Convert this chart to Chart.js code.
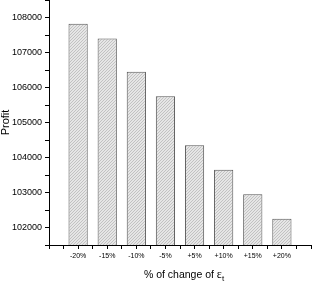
<!DOCTYPE html>
<html>
<head>
<meta charset="utf-8">
<script src="https://cdn.jsdelivr.net/npm/chart.js@4/dist/chart.umd.min.js"></script>
<style>
html,body{margin:0;padding:0;background:#fff;}
#wrap{width:312px;height:283px;position:relative;}
</style>
</head>
<body>
<div id="wrap"><canvas id="c" width="312" height="283"></canvas></div>
<script>
const categories = ['-20%', '-15%', '-10%', '-5%', '+5%', '+10%', '+15%', '+20%'];
const profit = [107820, 107400, 106450, 105750, 104350, 103650, 102950, 102250];
const yMin = 101500, yMax = 108500, yStep = 500;
const xTitle = '% of change of ';
const xTitleSym = '\u03b5';
const xTitleSub = 't';
const yTitle = 'Profit';

function hatch() {
  const p = document.createElement('canvas');
  p.width = 3; p.height = 3;
  const g = p.getContext('2d');
  g.fillStyle = '#e6e6e6';
  g.fillRect(0, 0, 3, 3);
  g.fillStyle = '#c2c2c2';
  g.fillRect(2, 0, 1, 1);
  g.fillRect(1, 1, 1, 1);
  g.fillRect(0, 2, 1, 1);
  return g.createPattern(p, 'repeat');
}

const data = profit.map((v, i) => ({ x: i + 1, y: v }));
const FONT = '"Liberation Sans", Arial, sans-serif';

const xTitlePlugin = {
  id: 'xTitle',
  afterDraw(chart) {
    const ctx = chart.ctx;
    const area = chart.chartArea;
    ctx.save();
    ctx.fillStyle = '#000';
    ctx.textBaseline = 'alphabetic';
    ctx.textAlign = 'left';
    const f1 = '10.5px ' + FONT, f2 = '12px "Liberation Serif", serif', f3 = '8px ' + FONT;
    ctx.font = f1; const w1 = ctx.measureText(xTitle).width;
    ctx.font = f2; const w2 = ctx.measureText(xTitleSym).width;
    ctx.font = f3; const w3 = ctx.measureText(xTitleSub).width;
    const cx = (area.left + area.right) / 2 + 4;
    const x0 = cx - (w1 + w2 + w3) / 2;
    const y = 278;
    ctx.font = f1; ctx.fillText(xTitle, x0, y);
    ctx.font = f2; ctx.fillText(xTitleSym, x0 + w1, y);
    ctx.font = f3; ctx.fillText(xTitleSub, x0 + w1 + w2, y + 3);
    ctx.restore();
  }
};

new Chart(document.getElementById('c'), {
  type: 'bar',
  data: {
    datasets: [{
      data: data,
      backgroundColor: hatch(),
      borderColor: '#555',
      borderWidth: 1,
      barPercentage: 1.32,
      categoryPercentage: 1
    }]
  },
  options: {
    responsive: false,
    animation: false,
    devicePixelRatio: 1,
    layout: { padding: { top: 0, right: 1, left: 0, bottom: 0 } },
    plugins: { legend: { display: false }, tooltip: { enabled: false } },
    scales: {
      x: {
        type: 'linear',
        min: 0, max: 9,
        offset: false,
        afterFit(s) { s.height = 38; s.paddingLeft = 0; s.paddingRight = 0; },
        ticks: {
          stepSize: 0.5,
          autoSkip: false,
          maxRotation: 0,
          padding: 3,
          color: '#000',
          font: { size: 7, family: FONT },
          callback: (v) => (Number.isInteger(v) && v >= 1 && v <= categories.length) ? categories[v - 1] : ''
        },
        grid: { offset: false, drawOnChartArea: false, drawTicks: true, tickLength: 4, color: '#000', lineWidth: 1 },
        border: { display: true, color: '#000', width: 1 }
      },
      y: {
        min: yMin, max: yMax,
        afterFit(s) { s.width = 49; s.paddingTop = 0; s.paddingBottom = 0; },
        ticks: {
          stepSize: yStep,
          autoSkip: false,
          padding: 3,
          color: '#000',
          font: { size: 9, family: FONT },
          callback: (v) => (v % 1000 === 0) ? String(v) : ''
        },
        title: {
          display: true,
          text: yTitle,
          color: '#000',
          font: { size: 11, family: FONT, lineHeight: 1 },
          padding: { top: 0, bottom: 0 }
        },
        grid: { drawOnChartArea: false, drawTicks: true, tickLength: 4, color: '#000', lineWidth: 1 },
        border: { display: true, color: '#000', width: 1 }
      }
    }
  },
  plugins: [xTitlePlugin]
});
</script>
</body>
</html>
